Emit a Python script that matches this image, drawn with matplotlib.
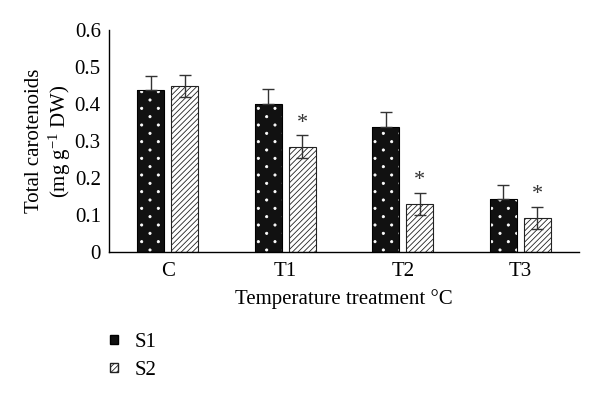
import matplotlib
matplotlib.use("Agg")
import warnings
import matplotlib.pyplot as plt
import matplotlib.patches as mpatches
from matplotlib import hatch as mhatch
from matplotlib.path import Path
import numpy as np

plt.rcParams['font.family'] = ['Liberation Serif', 'DejaVu Serif']
plt.rcParams['mathtext.default'] = 'regular'
plt.rcParams['hatch.linewidth'] = 0.6
warnings.filterwarnings("ignore")


# fine staggered dot texture ('d'), closer to the original than '.' / '..'
class FineDots(mhatch.HatchPatternBase):
    def __init__(self, hatch, density):
        self.centers = []
        if 'd' in hatch:
            for r in range(13):
                if r % 2 == 0:
                    cols = np.linspace(0, 1, 7)
                else:
                    cols = np.linspace(1 / 12, 11 / 12, 6)
                for c in cols:
                    self.centers.append((c, r / 12))
        circ = Path.unit_circle()
        self.shape_v = circ.vertices * 0.011
        self.shape_c = circ.codes
        self.num_vertices = len(self.centers) * len(self.shape_v)

    def set_vertices_and_codes(self, vertices, codes):
        vertices[:] = np.concatenate([self.shape_v + c for c in self.centers])
        codes[:] = np.concatenate([self.shape_c for _ in self.centers])


dot_hatch = '.'
try:
    mhatch._hatch_types.append(FineDots)
    mhatch.get_path('d')
    mhatch.get_path('/')
    dot_hatch = 'd'
except Exception:
    mhatch._hatch_types[:] = [t for t in mhatch._hatch_types if t is not FineDots]

groups = ["C", "T1", "T2", "T3"]
s1 = [0.437, 0.400, 0.338, 0.143]
s1_err = [0.040, 0.040, 0.040, 0.038]
s2 = [0.448, 0.285, 0.130, 0.092]
s2_err = [0.030, 0.030, 0.029, 0.029]
s2_sig = [False, True, True, True]
yticks = [0, 0.1, 0.2, 0.3, 0.4, 0.5, 0.6]
ytick_labels = ["0", "0.1", "0.2", "0.3", "0.4", "0.5", "0.6"]

fs = 15
fig = plt.figure(figsize=(6, 3.95), dpi=100)
ax = fig.add_axes([0.182, 0.362, 0.783, 0.562])

x = np.arange(len(groups)) + 0.5
w = 0.23
off = 0.145

# S1: black with white dots, then black outline
ax.bar(x - off, s1, w, color='#111111', edgecolor='white', hatch=dot_hatch, linewidth=0, zorder=2)
ax.bar(x - off, s1, w, fill=False, edgecolor='black', linewidth=0.8, zorder=3)
# S2: white with diagonal lines
ax.bar(x + off, s2, w, color='white', edgecolor='#222222', hatch='//////', linewidth=0.8, zorder=2)

# lower half of the S1 bars is hidden in the black fill anyway
ax.errorbar(x - off, s1, yerr=[np.zeros(len(s1)), s1_err], fmt='none', ecolor='#333333',
            elinewidth=1, capsize=4.5, capthick=1, zorder=4)
ax.errorbar(x + off, s2, yerr=s2_err, fmt='none', ecolor='#333333', elinewidth=1,
            capsize=4.5, capthick=1, zorder=4)

for xi, v, e, sig in zip(x + off, s2, s2_err, s2_sig):
    if sig:
        ax.text(xi, v + e + 0.008, "*", ha='center', va='bottom', fontsize=16, color='#333333')

ax.set_xlim(0, 4)
ax.set_ylim(0, 0.6)
ax.set_xticks(x)
ax.set_xticklabels(groups, fontsize=fs)
ax.set_yticks(yticks)
ax.set_yticklabels(ytick_labels, fontsize=fs)
ax.tick_params(axis='x', length=0, pad=7)
ax.tick_params(axis='y', length=0, pad=6)
for s in ['top', 'right']:
    ax.spines[s].set_visible(False)
for s in ['left', 'bottom']:
    ax.spines[s].set_linewidth(1)
ax.set_ylabel("Total carotenoids\n(mg g$^{-1}$ DW)", fontsize=fs, labelpad=1, linespacing=1.15)
ax.set_xlabel("Temperature treatment °C", fontsize=fs, labelpad=6)

h1 = mpatches.Patch(facecolor='#111111', edgecolor='black', hatch='.', label='S1')
h2 = mpatches.Patch(facecolor='white', edgecolor='#222222', hatch='//////', label='S2')
fig.legend(handles=[h1, h2], loc='upper left', bbox_to_anchor=(0.166, 0.183),
           frameon=False, fontsize=fs, handlelength=0.36, handleheight=0.26,
           handletextpad=0.8, labelspacing=0.42, borderpad=0)

fig.savefig("out.png", dpi=100)
